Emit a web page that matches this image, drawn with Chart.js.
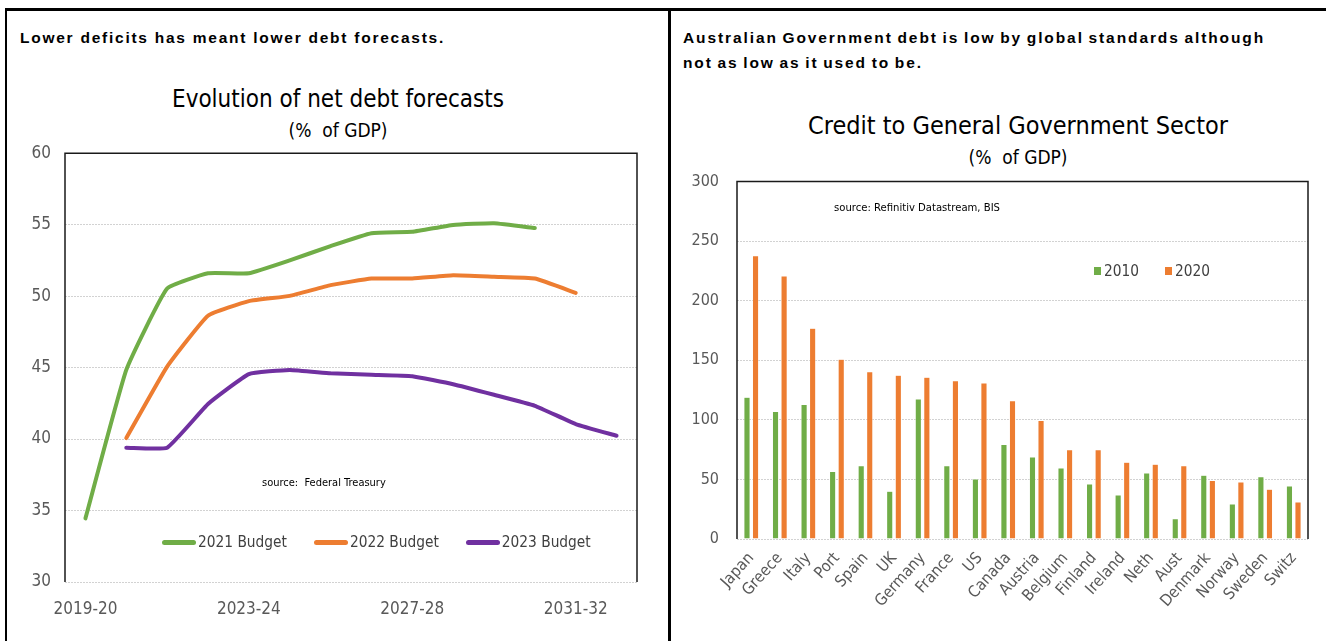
<!DOCTYPE html>
<html>
<head>
<meta charset="utf-8">
<script src="https://cdn.jsdelivr.net/npm/chart.js@4.4.1/dist/chart.umd.min.js"></script>
<style>
  body { margin: 0; background: #fff; }
  #page { position: relative; width: 1326px; height: 641px; overflow: hidden; font-family: "Liberation Sans", Arial, sans-serif; }
  .rule { position: absolute; background: #000; }
  .head { position: absolute; font-weight: bold; font-size: 15.5px; color: #000; line-height: 25px; letter-spacing: 1.75px; white-space: nowrap; }
  .ctitle { position: absolute; text-align: center; color: #000; font-family: "Liberation Sans Narrow", "Arial Narrow", "DejaVu Sans Condensed", sans-serif; }
  .ctitle .t1 { font-size: 25px; line-height: 30px; }
  .ctitle .t2 { font-size: 19px; line-height: 32px; }
  .note { position: absolute; font-family: "Liberation Sans Narrow", "Arial Narrow", "DejaVu Sans Condensed", sans-serif; font-size: 11px; color: #000; white-space: nowrap; }
  .legend { position: absolute; display: flex; align-items: center; font-family: "Liberation Sans Narrow", "Arial Narrow", "DejaVu Sans Condensed", sans-serif; font-size: 15.3px; color: #404040; white-space: nowrap; }
  .legend .item { display: flex; align-items: center; }
  canvas { position: absolute; }
</style>
</head>
<body>
<div id="page">
  <div class="rule" style="left:5px;top:8px;width:1321px;height:3px"></div>
  <div class="rule" style="left:5px;top:8px;width:2px;height:633px"></div>
  <div class="rule" style="left:668px;top:8px;width:3px;height:633px"></div>

  <div class="head" style="left:20px;top:25px">Lower deficits has meant lower debt forecasts.</div>
  <div class="head" style="left:683px;top:25px;letter-spacing:1.9px;word-spacing:-1.5px">Australian Government debt is low by global standards although<br>not as low as it used to be.</div>

  <div class="ctitle" style="left:20px;width:636px;top:84px"><div class="t1" style="font-size:24px">Evolution of net debt forecasts</div><div class="t2">(% &nbsp;of GDP)</div></div>
  <div class="ctitle" style="left:700px;width:636px;top:111px"><div class="t1">Credit to General Government Sector</div><div class="t2">(% &nbsp;of GDP)</div></div>

  <canvas id="debt" width="640" height="493" style="left:20px;top:129px;width:640px;height:493px"></canvas>
  <canvas id="credit" width="646" height="480" style="left:680px;top:154px;width:646px;height:480px"></canvas>

  <div class="note" style="left:262px;top:476px">source: &nbsp;Federal Treasury</div>
  <div class="note" style="left:834px;top:201px;font-size:11.2px">source: Refinitiv Datastream, BIS</div>
  <div class="legend" id="debtLegend" style="left:162px;top:533px"></div>
  <div class="legend" id="creditLegend" style="left:1094px;top:262px"></div>
</div>
<script>
// net debt forecasts, % of GDP
const years = ["2019-20", "2020-21", "2021-22", "2022-23", "2023-24", "2024-25", "2025-26",
  "2026-27", "2027-28", "2028-29", "2029-30", "2030-31", "2031-32", "2032-33"]
const budget2021 = [34.45, 44.84, 50.53, 51.6, 51.6, 52.5, 53.5, 54.4, 54.5, 54.98, 55.1, 54.76, null, null]
const budget2022 = [null, 40.07, 45.07, 48.63, 49.65, 50.02, 50.77, 51.23, 51.23, 51.46, 51.35, 51.23, 50.23, null]
const budget2023 = [null, 39.4, 39.4, 42.45, 44.54, 44.84, 44.6, 44.5, 44.4, 43.84, 43.1, 42.33, 41.05, 40.23]
const debtTicks = [30, 35, 40, 45, 50, 55, 60]

// credit to general government, % of GDP
const countries = ["Japan", "Greece", "Italy", "Port", "Spain", "UK", "Germany", "France", "US", "Canada",
  "Austria", "Belgium", "Finland", "Ireland", "Neth", "Aust", "Denmark", "Norway", "Sweden", "Switz"]
const credit2010 = [119, 107, 113, 56.7, 61.4, 40, 117.5, 61.4, 50.3, 79.4, 68.9, 59.7, 46.1, 36.9, 55.3, 16.9, 53.6, 29.4, 52.2, 44.4]
const credit2020 = [237.8, 220.8, 177, 150.8, 140.3, 137.5, 135.8, 132.8, 131, 116, 99.4, 75, 75, 64.4, 62.8, 61.4, 49.2, 47.8, 41.7, 31.1]

const GREEN = "#70ad47"
const ORANGE = "#ed7d31"
const PURPLE = "#7030a0"
const NARROW = "'Liberation Sans Narrow', 'Arial Narrow', 'DejaVu Sans Condensed', sans-serif"

Chart.defaults.font.family = NARROW
Chart.defaults.color = "#595959"
Chart.defaults.animation = false

// black frame round the plot area (top, left, right)
const plotFrame = {
  id: "plotFrame",
  afterDraw(chart) {
    const {ctx, chartArea: a} = chart
    ctx.save()
    ctx.strokeStyle = "#1a1a1a"
    ctx.lineWidth = 1.5
    ctx.beginPath()
    ctx.moveTo(a.left, a.bottom)
    ctx.lineTo(a.left, a.top)
    ctx.lineTo(a.right, a.top)
    ctx.lineTo(a.right, a.bottom)
    ctx.stroke()
    ctx.restore()
  },
}

function fixWidth(w) {
  return (scale) => { scale.width = w }
}
function fixHeight(h) {
  return (scale) => { scale.height = h }
}

const gridStyle = {color: "#d2d2d2", lineWidth: 1, drawTicks: false}

const lineSets = [
  {label: "2021 Budget", data: budget2021, color: GREEN},
  {label: "2022 Budget", data: budget2022, color: ORANGE},
  {label: "2023 Budget", data: budget2023, color: PURPLE},
]

new Chart(document.getElementById("debt"), {
  type: "line",
  data: {
    labels: years,
    datasets: lineSets.map((s) => ({
      label: s.label,
      data: s.data,
      borderColor: s.color,
      backgroundColor: s.color,
      borderWidth: 4,
      borderCapStyle: "round",
      borderJoinStyle: "round",
      pointRadius: 0,
      tension: 0.12,
    })),
  },
  options: {
    responsive: false,
    layout: {padding: {top: 7, right: 23, left: 0, bottom: 0}},
    plugins: {legend: {display: false}, tooltip: {enabled: false}},
    scales: {
      x: {
        offset: true,
        grid: {display: false},
        border: {display: false},
        afterFit: fixHeight(40),
        ticks: {
          autoSkip: false,
          maxRotation: 0,
          padding: 9,
          font: {size: 17},
          callback(v, i) { return i % 4 === 0 ? this.getLabelForValue(v) : "" },
        },
      },
      y: {
        min: debtTicks[0],
        max: debtTicks[debtTicks.length - 1],
        afterFit: fixWidth(45),
        afterBuildTicks(scale) { scale.ticks = debtTicks.map((v) => ({value: v})) },
        grid: gridStyle,
        border: {display: false, dash: [2, 1]},
        ticks: {padding: 14, font: {size: 17}},
      },
    },
  },
  plugins: [plotFrame],
})

const barSets = [
  {label: "2010", data: credit2010, color: GREEN},
  {label: "2020", data: credit2020, color: ORANGE},
]

new Chart(document.getElementById("credit"), {
  type: "bar",
  data: {
    labels: countries,
    datasets: barSets.map((s) => ({
      label: s.label,
      data: s.data,
      backgroundColor: s.color,
      borderColor: "#ffffff",
      borderWidth: 0.5,
      barPercentage: 0.72,
      categoryPercentage: 0.6,
    })),
  },
  options: {
    responsive: false,
    layout: {padding: {top: 7, right: 18, left: 0, bottom: 0}},
    plugins: {legend: {display: false}, tooltip: {enabled: false}},
    scales: {
      x: {
        grid: {display: false},
        border: {display: false},
        afterFit: fixHeight(95),
        ticks: {autoSkip: false, minRotation: 48, maxRotation: 48, padding: 2, font: {size: 16}},
      },
      y: {
        min: 0,
        max: 300,
        afterFit: fixWidth(57),
        grid: gridStyle,
        border: {display: false, dash: [2, 1]},
        ticks: {stepSize: 50, padding: 18, font: {size: 16}},
      },
    },
  },
  plugins: [plotFrame],
})

// legends built from the same series
function buildLegend(el, sets, marker, gap) {
  sets.forEach((s, i) => {
    const item = document.createElement("div")
    item.className = "item"
    if (i > 0) item.style.marginLeft = gap + "px"
    const m = document.createElement("span")
    Object.assign(m.style, marker, {background: s.color, display: "inline-block"})
    const t = document.createElement("span")
    t.textContent = s.label
    item.appendChild(m)
    item.appendChild(t)
    el.appendChild(item)
  })
}
buildLegend(document.getElementById("debtLegend"), lineSets,
  {width: "34px", height: "5px", borderRadius: "3px", marginRight: "2px"}, 27)
buildLegend(document.getElementById("creditLegend"), barSets,
  {width: "7px", height: "8px", marginRight: "3px"}, 26)
</script>
</body>
</html>
